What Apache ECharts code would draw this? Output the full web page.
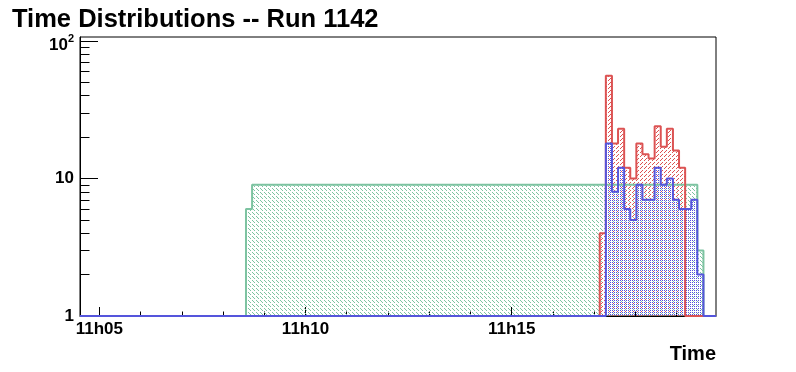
<!DOCTYPE html>
<html><head><meta charset="utf-8">
<script src="https://cdn.jsdelivr.net/npm/echarts@6/dist/echarts.min.js"></script>
<style>html,body{margin:0;padding:0;background:#fff}#c{width:796px;height:372px}</style>
</head><body><div id="c"></div>
<script>
// ---- data ----
const titleText = 'Time Distributions -- Run 1142';
const xAxisName = 'Time';
// x values are minutes after 11h00
const xRange = [4.532, 19.954];
const yRange = [1, 107];
const binOrigin = 8.557;   // left edge of bin 0 (minutes)
const binWidth = 0.1479;   // minutes per bin
const xMajorTicks = [5, 10, 15];
const xMajorLabels = ['11h05', '11h10', '11h15'];
const xMinorTicks = [6, 7, 8, 9, 11, 12, 13, 14, 16, 17, 18, 19];
const yMajorTicks = [1, 10, 100];
const yMinorTicks = [2, 3, 4, 5, 6, 7, 8, 9, 20, 30, 40, 50, 60, 70, 80, 90];

const greenStartBin = 0;
const greenCounts = [6,
  9, 9, 9, 9, 9, 9, 9, 9, 9, 9, 9, 9, 9, 9, 9, 9, 9, 9, 9, 9,
  9, 9, 9, 9, 9, 9, 9, 9, 9, 9, 9, 9, 9, 9, 9, 9, 9, 9, 9, 9,
  9, 9, 9, 9, 9, 9, 9, 9, 9, 9, 9, 9, 9, 9, 9, 9, 9, 9, 9, 9,
  9, 9, 9, 9, 9, 9, 9, 9, 9, 9, 9, 9, 9,
  3];
const redStartBin = 58;
const redCounts = [4, 56, 18, 23, 12, 10, 18, 15, 14, 24, 17, 23, 16, 12];
const blueStartBin = 59;
const blueCounts = [18, 8, 12, 6, 5, 9, 7, 7, 12, 9, 10, 7, 6, 6, 7, 2];

// ---- styling ----
const FONT = 'Liberation Sans';
const greenColor = '#7dc3a1';
const redColor = '#dc5353';
const blueColor = '#5555dc';

function hatch(color, size, on) {
  const c = document.createElement('canvas');
  c.width = c.height = size;
  const g = c.getContext('2d');
  g.fillStyle = color;
  for (let y = 0; y < size; y++) for (let x = 0; x < size; x++) if (on(x, y)) g.fillRect(x, y, 1, 1);
  return { image: c, repeat: 'repeat' };
}
const greenFill = hatch(greenColor, 8, (x, y) => ((x - y + 8) % 4 === 0) && (x % 4 !== 3));
const redFill = hatch(redColor, 8, (x, y) => ((x + y) % 4 === 0) && (x % 4 !== 3));
const blueFill = hatch(blueColor, 4, (x, y) => (x % 2 === 0 && y % 2 === 0));

function histPoints(startBin, counts) {
  const floor = yRange[0];
  const pts = [[xRange[0], floor]];
  counts.forEach((c, i) => {
    pts.push([binOrigin + (startBin + i) * binWidth, Math.max(c, floor)]);
  });
  pts.push([binOrigin + (startBin + counts.length) * binWidth, floor]);
  pts.push([xRange[1], floor]);
  return pts;
}

function histSeries(name, startBin, counts, color, fill) {
  return {
    name, type: 'line', step: 'end', symbol: 'none', xAxisIndex: 0, yAxisIndex: 0,
    data: histPoints(startBin, counts),
    lineStyle: { color, width: 2 },
    itemStyle: { color },
    areaStyle: { color: fill, origin: 'start', opacity: 1 },
    animation: false
  };
}

const labelStyle = { fontFamily: FONT, fontWeight: 'bold', fontSize: 17, color: '#000' };

const chart = echarts.init(document.getElementById('c'), null, { renderer: 'canvas' });
chart.setOption({
  animation: false,
  backgroundColor: '#fff',
  title: {
    text: titleText, left: 7, top: 2,
    textStyle: { fontFamily: FONT, fontWeight: 'bold', fontSize: 25.5, color: '#000' }
  },
  grid: { left: 80, right: 80, top: 37, bottom: 56, show: true, borderColor: '#000', borderWidth: 1, backgroundColor: 'transparent' },
  xAxis: [
    {
      type: 'value', min: xRange[0], max: xRange[1], position: 'bottom',
      axisLine: { show: true, lineStyle: { color: '#000', width: 1 } },
      axisTick: { show: true, inside: true, length: 9, customValues: xMajorTicks, lineStyle: { color: '#000' } },
      axisLabel: Object.assign({ customValues: xMajorTicks, margin: 5,
        formatter: v => xMajorLabels[xMajorTicks.indexOf(v)] }, labelStyle),
      splitLine: { show: false },
      name: xAxisName, nameLocation: 'end', nameGap: 0,
      nameTextStyle: { fontFamily: FONT, fontWeight: 'bold', fontSize: 20, color: '#000', align: 'right', verticalAlign: 'top', padding: [28, 0, 0, 0] }
    },
    {
      type: 'value', min: xRange[0], max: xRange[1], position: 'bottom',
      axisLine: { show: false },
      axisTick: { show: true, inside: true, length: 4.5, customValues: xMinorTicks, lineStyle: { color: '#000' } },
      axisLabel: { show: false }, splitLine: { show: false }
    }
  ],
  yAxis: [
    {
      type: 'log', logBase: 10, min: yRange[0], max: yRange[1], position: 'left',
      axisLine: { show: true, lineStyle: { color: '#000', width: 1 } },
      axisTick: { show: true, inside: true, length: 18, customValues: yMajorTicks, lineStyle: { color: '#000' } },
      axisLabel: Object.assign({ customValues: yMajorTicks, margin: 6,
        formatter: v => (Math.abs(v - 100) < 1e-6 ? '{b|10}{s|2}' : String(Math.round(v))),
        rich: {
          b: { fontFamily: FONT, fontWeight: 'bold', fontSize: 17, color: '#000', padding: [8, 0, 0, 0] },
          s: { fontFamily: FONT, fontWeight: 'bold', fontSize: 11, color: '#000', padding: [0, 0, 4, 0] }
        } }, labelStyle),
      splitLine: { show: false }
    },
    {
      type: 'log', logBase: 10, min: yRange[0], max: yRange[1], position: 'left',
      axisLine: { show: false },
      axisTick: { show: true, inside: true, length: 9.5, customValues: yMinorTicks, lineStyle: { color: '#000' } },
      axisLabel: { show: false }, splitLine: { show: false }
    }
  ],
  series: [
    histSeries('green', greenStartBin, greenCounts, greenColor, greenFill),
    histSeries('red', redStartBin, redCounts, redColor, redFill),
    histSeries('blue', blueStartBin, blueCounts, blueColor, blueFill)
  ]
});
</script>
</body></html>
